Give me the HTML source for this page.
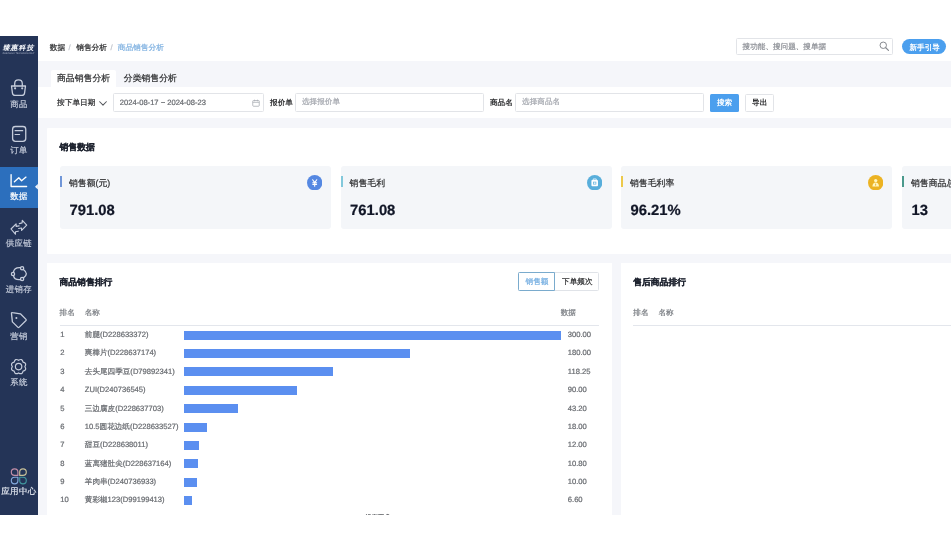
<!DOCTYPE html>
<html lang="zh">
<head>
<meta charset="utf-8">
<title>商品销售分析</title>
<style>
*{box-sizing:border-box;margin:0;padding:0}
html,body{width:951px;height:551px;background:#fff;overflow:hidden}
body{text-rendering:geometricPrecision;font-family:"Liberation Sans",sans-serif;position:relative;color:#303133}
#app{position:absolute;left:0;top:0;width:951px;height:551px;overflow:hidden;background:#fff}
#shot{will-change:transform;opacity:.999;position:absolute;left:0;top:36px;width:951px;height:478.5px;overflow:hidden;background:#f5f6fa}
#shot>*{position:absolute}
.abs{position:absolute}
.t{-webkit-text-stroke:0.22px currentColor;position:absolute;white-space:nowrap;line-height:12px;height:12px;font-size:7.6px}
.tc{color:#696c71}
.side{left:0;top:0;width:37.6px;height:478.5px;background:#243457}
.white{background:#fff}
.inp{border:0.6px solid #e2e4e8;border-radius:1.5px;background:#fff}
.stat{background:#f4f6f9;border-radius:3px;top:130.1px;height:62.6px;width:271.2px}
.acc{position:absolute;left:0;top:10px;width:2px;height:11.3px}
.bar{position:absolute;height:9px;background:#5b8ff0}
.sl{-webkit-text-stroke:0.2px currentColor;position:absolute;left:0;width:37.5px;text-align:center;font-size:8.4px;letter-spacing:0.4px;text-indent:0.4px;line-height:10px;color:#c3cad9;white-space:nowrap}
.ico{position:absolute}
.b{font-weight:bold}
.ns{-webkit-text-stroke:0}
</style>
</head>
<body>
<div id="app">
<div id="shot">
  <!-- header -->
  <div class="white" style="left:37.5px;top:0;width:914px;height:24.8px"></div>
  <div class="t" style="left:49.8px;top:6px;font-size:7.7px;color:#303133">数据</div>
  <div class="t" style="left:68.6px;top:6px;font-size:7.7px;color:#c0c4cc">/</div>
  <div class="t" style="left:76.2px;top:6px;font-size:7.7px;color:#303133">销售分析</div>
  <div class="t" style="left:110.4px;top:6px;font-size:7.7px;color:#c0c4cc">/</div>
  <div class="t" style="left:117.7px;top:6px;font-size:7.7px;color:#84b4e2">商品销售分析</div>
  <div class="inp" style="left:736.2px;top:2.4px;width:156.9px;height:16.3px"></div>
  <div class="t" style="left:742.6px;top:4.9px;color:#8f9298">搜功能、搜问题、搜单据</div>
  <svg class="ico" style="left:879.3px;top:4.8px" width="10.4" height="10.4" viewBox="0 0 20 20"><circle cx="8.2" cy="8.2" r="6.2" fill="none" stroke="#85888e" stroke-width="1.9"/><path d="M13 13 L18.2 18.2" stroke="#85888e" stroke-width="2.2" stroke-linecap="round"/></svg>
  <div style="left:902.3px;top:2.8px;width:44px;height:14.9px;border-radius:7.5px;background:#4b9fee"></div>
  <div class="t b ns" style="left:909.5px;top:5.8px;color:#fff">新手引导</div>

  <!-- tabs -->
  <div class="white" style="left:50.7px;top:33.7px;width:65.6px;height:17.7px;border-radius:2px 2px 0 0"></div>
  <div class="t" style="left:57px;top:35.9px;font-size:8.85px;color:#303133">商品销售分析</div>
  <div class="t" style="left:123.8px;top:35.9px;font-size:8.85px;color:#303133">分类销售分析</div>

  <!-- filter row -->
  <div class="white" style="left:37.5px;top:50.6px;width:914px;height:31.9px"></div>
  <div class="t" style="left:57px;top:61.4px;font-size:7.7px;color:#303133">按下单日期</div>
  <svg class="ico" style="left:98.6px;top:64.9px" width="8" height="5" viewBox="0 0 16 10"><path d="M1.4 1.5 L8 8.3 L14.6 1.5" fill="none" stroke="#55585d" stroke-width="2.1" stroke-linecap="round" stroke-linejoin="round"/></svg>
  <div class="inp" style="left:113.3px;top:57.15px;width:150.4px;height:18.7px"></div>
  <div class="t tc" style="left:119.8px;top:61.1px;font-size:7.58px">2024-08-17 ~ 2024-08-23</div>
  <svg class="ico" style="left:252.2px;top:63.1px" width="8" height="8" viewBox="0 0 16 16"><rect x="1.5" y="3" width="13" height="11.5" rx="1.5" fill="none" stroke="#aeb1b7" stroke-width="1.7"/><path d="M1.5 6.6 H14.5 M5 1.4 V4.5 M11 1.4 V4.5" stroke="#aeb1b7" stroke-width="1.7" fill="none"/></svg>
  <div class="t b ns" style="left:270.1px;top:60.7px;color:#303133">报价单</div>
  <div class="inp" style="left:295.4px;top:57.15px;width:188.2px;height:18.7px"></div>
  <div class="t" style="left:302px;top:60.4px;color:#a6a9b0">选择报价单</div>
  <div class="t b ns" style="left:490px;top:60.7px;color:#303133">商品名</div>
  <div class="inp" style="left:515.1px;top:57.15px;width:188.5px;height:18.7px"></div>
  <div class="t" style="left:522.1px;top:60.4px;color:#a6a9b0">选择商品名</div>
  <div style="left:710px;top:57.5px;width:29px;height:18.3px;border-radius:1.5px;background:#4b9fee"></div>
  <div class="t b ns" style="left:716.9px;top:60.8px;color:#fff">搜索</div>
  <div class="inp" style="left:745.3px;top:57.5px;width:29px;height:18.3px"></div>
  <div class="t b ns" style="left:752.1px;top:60.8px;color:#303133">导出</div>

  <!-- sales data card -->
  <div class="white" style="left:47px;top:92px;width:910px;height:125.6px;border-radius:1px"></div>
  <div class="t b" style="left:59.5px;top:105.2px;font-size:8.85px;color:#1f2430">销售数据</div>

  <div class="stat" style="left:59.7px"><div class="acc" style="background:#7096d8"></div></div>
  <div class="stat" style="left:340.5px"><div class="acc" style="background:#82c8db"></div></div>
  <div class="stat" style="left:620.8px"><div class="acc" style="background:#ecc94b"></div></div>
  <div class="stat" style="left:901.7px"><div class="acc" style="background:#4a998c"></div></div>

  <div class="t" style="left:69px;top:141px;font-size:8.85px;color:#303133">销售额(元)</div>
  <div class="t" style="left:349.6px;top:141px;font-size:8.85px;color:#303133">销售毛利</div>
  <div class="t" style="left:630px;top:141px;font-size:8.85px;color:#303133">销售毛利率</div>
  <div class="t" style="left:911px;top:141px;font-size:8.85px;color:#303133">销售商品总数</div>

  <div class="t b" style="left:69.5px;top:165.9px;font-size:14.8px;line-height:18px;height:18px;color:#111627">791.08</div>
  <div class="t b" style="left:350.1px;top:165.9px;font-size:14.8px;line-height:18px;height:18px;color:#111627">761.08</div>
  <div class="t b" style="left:630.5px;top:165.9px;font-size:14.8px;line-height:18px;height:18px;color:#111627">96.21%</div>
  <div class="t b" style="left:911.5px;top:165.9px;font-size:14.8px;line-height:18px;height:18px;color:#111627">13</div>

  <!-- stat icons -->
  <svg class="ico" style="left:306.5px;top:138.5px" width="15.4" height="15.4" viewBox="0 0 30 30"><circle cx="15" cy="15" r="15" fill="#5588e2"/><path d="M11 9.2 L15 14.8 L19 9.2 M11.2 15 H18.8 M11.2 18.2 H18.8 M15 14.8 V22" stroke="#fff" stroke-width="2.1" fill="none" stroke-linecap="round" stroke-linejoin="round"/></svg>
  <svg class="ico" style="left:586.9px;top:138.5px" width="15.4" height="15.4" viewBox="0 0 30 30"><circle cx="15" cy="15" r="15" fill="#58aedb"/><rect x="8.6" y="9.6" width="12.8" height="12.4" rx="1.8" fill="#fff"/><path d="M12 9.6 V7.8 H18 V9.6" stroke="#fff" stroke-width="1.6" fill="none"/><rect x="12.6" y="13.8" width="4.8" height="4" fill="none" stroke="#58aedb" stroke-width="1.3"/></svg>
  <svg class="ico" style="left:867.7px;top:138.5px" width="15.4" height="15.4" viewBox="0 0 30 30"><circle cx="15" cy="15" r="15" fill="#ecb323"/><circle cx="15" cy="10.8" r="3.2" fill="#fff6c0"/><path d="M8.6 22.4 C8.6 17.2 11.4 14.8 15 14.8 C18.6 14.8 21.4 17.2 21.4 22.4 Z" fill="#fff6c0"/><path d="M15 15.5 L13.8 19.5 L15 21.4 L16.2 19.5 Z" fill="#ecb323"/></svg>

  <!-- ranking card -->
  <div class="white" style="left:47px;top:226.7px;width:564.5px;height:260px"></div>
  <div class="t b" style="left:59.5px;top:240.1px;font-size:8.8px;color:#1f2430">商品销售排行</div>
  <div style="left:518.2px;top:236.3px;width:80.7px;height:19.1px;border:0.6px solid #e0e3e8;border-radius:1.5px;background:#fff"></div>
  <div style="left:518.2px;top:236.3px;width:36.6px;height:19.1px;border:0.7px solid #7aabcd;border-radius:1.5px 0 0 1.5px;background:#fff"></div>
  <div class="t" style="left:525.6px;top:239.9px;color:#78b0e2">销售额</div>
  <div class="t" style="left:562.1px;top:239.9px;color:#303133">下单频次</div>
  <div class="t" style="left:59.6px;top:271px;color:#7d8086">排名</div>
  <div class="t" style="left:84.7px;top:271px;color:#7d8086">名称</div>
  <div class="t" style="left:560.7px;top:271px;color:#7d8086">数据</div>
  <div style="left:59.7px;top:288.9px;width:539.2px;height:0.8px;background:#e3e6ec"></div>
<div class="t tc" style="left:60.3px;top:293.05px">1</div>
<div class="t tc" style="left:84.8px;top:293.05px">前腿(D228633372)</div>
<div class="bar" style="left:184.0px;top:294.65px;width:377.10px"></div>
<div class="t tc" style="left:567.8px;top:293.05px">300.00</div>
<div class="t tc" style="left:60.3px;top:311.42px">2</div>
<div class="t tc" style="left:84.8px;top:311.42px">爽棒片(D228637174)</div>
<div class="bar" style="left:184.0px;top:313.02px;width:226.26px"></div>
<div class="t tc" style="left:567.8px;top:311.42px">180.00</div>
<div class="t tc" style="left:60.3px;top:329.79px">3</div>
<div class="t tc" style="left:84.8px;top:329.79px">去头尾四季豆(D79892341)</div>
<div class="bar" style="left:184.0px;top:331.39px;width:148.64px"></div>
<div class="t tc" style="left:567.8px;top:329.79px">118.25</div>
<div class="t tc" style="left:60.3px;top:348.16px">4</div>
<div class="t tc" style="left:84.8px;top:348.16px">ZUI(D240736545)</div>
<div class="bar" style="left:184.0px;top:349.76px;width:113.13px"></div>
<div class="t tc" style="left:567.8px;top:348.16px">90.00</div>
<div class="t tc" style="left:60.3px;top:366.53px">5</div>
<div class="t tc" style="left:84.8px;top:366.53px">三边腐皮(D228637703)</div>
<div class="bar" style="left:184.0px;top:368.13px;width:54.30px"></div>
<div class="t tc" style="left:567.8px;top:366.53px">43.20</div>
<div class="t tc" style="left:60.3px;top:384.90px">6</div>
<div class="t tc" style="left:84.8px;top:384.90px">10.5圆花边纸(D228633527)</div>
<div class="bar" style="left:184.0px;top:386.50px;width:22.63px"></div>
<div class="t tc" style="left:567.8px;top:384.90px">18.00</div>
<div class="t tc" style="left:60.3px;top:403.27px">7</div>
<div class="t tc" style="left:84.8px;top:403.27px">甜豆(D228638011)</div>
<div class="bar" style="left:184.0px;top:404.87px;width:15.08px"></div>
<div class="t tc" style="left:567.8px;top:403.27px">12.00</div>
<div class="t tc" style="left:60.3px;top:421.64px">8</div>
<div class="t tc" style="left:84.8px;top:421.64px">蓝离猪肚尖(D228637164)</div>
<div class="bar" style="left:184.0px;top:423.24px;width:13.58px"></div>
<div class="t tc" style="left:567.8px;top:421.64px">10.80</div>
<div class="t tc" style="left:60.3px;top:440.01px">9</div>
<div class="t tc" style="left:84.8px;top:440.01px">羊肉串(D240736933)</div>
<div class="bar" style="left:184.0px;top:441.61px;width:12.57px"></div>
<div class="t tc" style="left:567.8px;top:440.01px">10.00</div>
<div class="t tc" style="left:60.3px;top:458.38px">10</div>
<div class="t tc" style="left:84.8px;top:458.38px">黄彩椒123(D99199413)</div>
<div class="bar" style="left:184.0px;top:459.98px;width:8.30px"></div>
<div class="t tc" style="left:567.8px;top:458.38px">6.60</div>

  <div class="t" style="left:365.6px;top:475.9px;font-size:6.2px;color:#606266">没有更多</div>

  <!-- right card -->
  <div class="white" style="left:621px;top:226.7px;width:340px;height:260px"></div>
  <div class="t b" style="left:633.2px;top:240.1px;font-size:8.8px;color:#1f2430">售后商品排行</div>
  <div class="t" style="left:633.3px;top:271px;color:#7d8086">排名</div>
  <div class="t" style="left:658.5px;top:271px;color:#7d8086">名称</div>
  <div style="left:633.4px;top:288.9px;width:330px;height:0.8px;background:#e3e6ec"></div>

  <!-- sidebar -->
  <div class="side"></div>
  <div class="t b ns" style="left:2.7px;top:7.4px;font-size:7px;color:#f4f6fa;font-style:italic;letter-spacing:0.9px">臻惠科技</div>
  <div class="t ns" style="left:2.4px;top:15.2px;font-size:2.6px;line-height:5px;height:5px;color:#aab3c8;letter-spacing:0.1px">ZHENHUI TECHNOLOGY</div>

  <div style="left:0;top:131.3px;width:37.5px;height:40.5px;background:#2c6fbd"></div>
  <svg class="ico" style="left:34.7px;top:148px" width="2.9" height="5.6" viewBox="0 0 2.9 5.6"><path d="M2.9 0 L0 2.8 L2.9 5.6 Z" fill="#f6f7fb"/></svg>
  <svg class="ico" style="left:0;top:0" width="37.5" height="478.5" viewBox="0 36 37.5 478.5" fill="none" stroke-linecap="round" stroke-linejoin="round">
    <!-- bag -->
    <g stroke="#c6cddc" stroke-width="1.3">
      <path d="M11.5 86 H25.5 L24.55 93.2 Q24.25 95.45 22 95.45 H15 Q12.75 95.45 12.45 93.2 Z"/>
      <path d="M14.7 86 V83.7 Q14.7 79.9 18.5 79.9 Q22.3 79.9 22.3 83.7 V86"/>
    </g>
    <circle cx="15.1" cy="88.3" r="1.1" fill="#c6cddc"/><circle cx="22.2" cy="88.3" r="1.1" fill="#c6cddc"/>
    <!-- order -->
    <g stroke="#c6cddc" stroke-width="1.3">
      <rect x="12.6" y="126.5" width="13.15" height="14.9" rx="2.8"/>
      <path d="M15.1 130.7 H22.7 M15.1 134.5 H19.6" stroke-width="1.2"/>
    </g>
    <!-- chart (active) -->
    <g stroke="#fff" stroke-width="1.35">
      <path d="M11.1 174.6 V186.5 H26.6"/>
      <path d="M14.4 181.8 L18.8 177.7 L21.6 180.8 L26 177.1"/>
    </g>
    <!-- supply chain -->
    <g stroke="#c6cddc" stroke-width="1.15">
      <path d="M19.3 223.6 L22.1 222.9 L22.3 220.4 L26.7 225.2 L21.6 230.4 L21.5 228 L18.6 228.5"/>
      <path d="M18.3 231.2 L15.5 231.8 L15.4 234.2 L11 229 L16.1 223.9 L16.2 226.4 L19.1 225.9"/>
    </g>
    <!-- jxc -->
    <g stroke="#c6cddc" stroke-width="1.3">
      <circle cx="22.1" cy="268.3" r="1.6"/><circle cx="13" cy="274" r="1.6"/><circle cx="22.1" cy="279" r="1.6"/>
      <path d="M13.4 272.4 Q14.2 267.2 20.5 267.7"/>
      <path d="M23.4 269.4 Q29.3 273.8 23.4 277.9"/>
      <path d="M20.5 279.6 Q14.3 280.4 13.5 275.6"/>
    </g>
    <!-- tag -->
    <g stroke="#c6cddc" stroke-width="1.3">
      <path d="M11.5 313.6 Q11.3 312.5 12.5 312.7 L20.4 313.8 L26 319.4 Q26.5 319.9 26 320.5 L19 327.4 Q18.5 327.9 18 327.4 L12.4 321.9 Z"/>
    </g>
    <circle cx="16.4" cy="318.1" r="1" fill="#c6cddc"/>
    <!-- gear -->
    <g stroke="#c6cddc" stroke-width="1.2">
      <path d="M18.60 360.30 Q22.16 358.01 23.05 362.15 Q27.19 363.04 24.90 366.60 Q27.19 370.16 23.05 371.05 Q22.16 375.19 18.60 372.90 Q15.04 375.19 14.15 371.05 Q10.01 370.16 12.30 366.60 Q10.01 363.04 14.15 362.15 Q15.04 358.01 18.60 360.30 Z"/>
      <circle cx="18.6" cy="366.6" r="3.2"/>
    </g>
    <!-- app center -->
    <g stroke-width="1.15">
      <path d="M17.9 475.4 H14.6 A3.3 3.3 0 1 1 17.9 472.1 Z" stroke="#c38fa8"/>
      <path d="M19.7 475.4 V472.1 A3.3 3.3 0 1 1 23 475.4 Z" stroke="#c8c098"/>
      <path d="M17.9 477.2 V480.5 A3.3 3.3 0 1 1 14.6 477.2 Z" stroke="#84aadd"/>
      <path d="M19.7 477.2 H23 A3.3 3.3 0 1 1 19.7 480.5 Z" stroke="#41979e"/>
    </g>
  </svg>
  <div class="sl" style="top:62.5px">商品</div>
  <div class="sl" style="top:108.9px">订单</div>
  <div class="sl" style="top:155.3px;color:#fff">数据</div>
  <div class="sl" style="top:202.2px">供应链</div>
  <div class="sl" style="top:248.2px">进销存</div>
  <div class="sl" style="top:295px">营销</div>
  <div class="sl" style="top:341.2px">系统</div>
  <div class="sl" style="top:450.3px;font-size:8.5px;color:#e3e7f0">应用中心</div>
</div>
</div>
</body>
</html>
